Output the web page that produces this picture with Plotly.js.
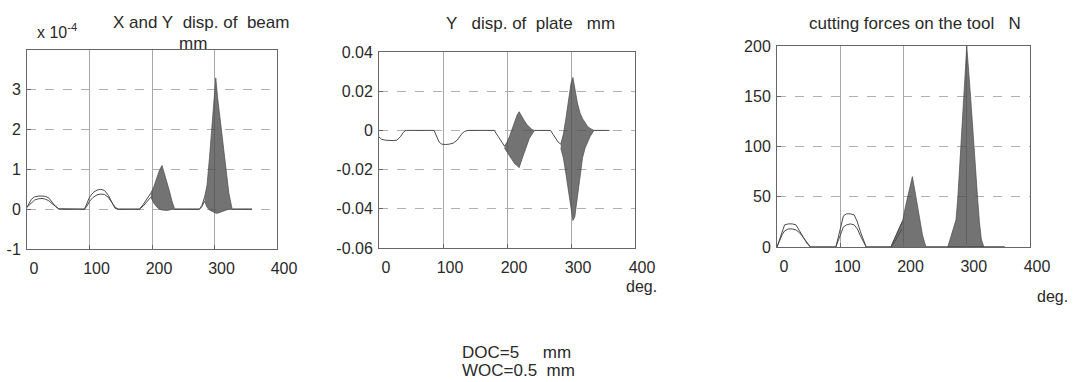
<!DOCTYPE html>
<html>
<head>
<meta charset="utf-8">
<script src="https://cdn.plot.ly/plotly-3.0.1.min.js"></script>
<style>html,body{margin:0;padding:0;background:#fff;}#chart{width:1075px;height:382px;}</style>
</head>
<body>
<div id="chart"></div>
<script>
// ---------- Data (x in degrees) ----------
// Plot 1: X and Y displacement of beam (values in 1e-4 mm)
const beamDeg = [0,3,7,12,18,24,30,35,40,45,51, 92,96,100,106,112,118,124,130,136,141,146, 180,186,192,198,199, 236,276,280,284,285, 328,360];
const beamX   = [0.05,0.15,0.25,0.31,0.33,0.33,0.32,0.28,0.18,0.08,0, 0,0.15,0.3,0.42,0.48,0.5,0.47,0.35,0.18,0.02,0, 0,0.12,0.25,0.4,null, 0,0,0.1,0.3,null, 0,0];
const beamY   = [0.05,0.1,0.17,0.23,0.26,0.27,0.25,0.21,0.14,0.07,0.01, 0,0.08,0.2,0.3,0.36,0.38,0.37,0.3,0.16,0.05,0, 0,0.08,0.18,0.3,null, 0,0,0.07,0.2,null, 0,0];
const beamBurst3Deg   = [198,203,208,212,216,220,224,228,232,236];
const beamBurst3Upper = [0.4,0.57,0.8,0.98,1.1,0.9,0.7,0.45,0.2,0.02];
const beamBurst3Lower = [0.3,0.15,0.05,0,-0.02,-0.03,-0.03,-0.02,0,0];
const beamBurst4Deg   = [284,288,292,296,300,302,305,308,311,315,319,323,328];
const beamBurst4Upper = [0.3,0.6,1.3,2.2,3.0,3.3,2.8,2.4,2.0,1.4,0.9,0.4,0.02];
const beamBurst4Lower = [0.2,0.05,-0.02,-0.05,-0.08,-0.1,-0.1,-0.08,-0.06,-0.04,-0.02,0,0];

// Plot 2: Y displacement of plate (mm)
const plateDeg = [0,4,10,16,22,28,34,38,42, 86,90,94,98,104,110,116,122,126,130,134,139, 180,184,188,192,196,197, 243,268,272,276,280,284,285, 336,360];
const plateY   = [-0.0034,-0.0045,-0.005,-0.0052,-0.0052,-0.005,-0.003,-0.001,0, 0,-0.003,-0.006,-0.007,-0.0072,-0.007,-0.0065,-0.005,-0.003,-0.0015,-0.0005,0, 0,-0.002,-0.004,-0.006,-0.008,null, 0,0,-0.002,-0.004,-0.006,-0.007,null, 0,0];
const plateBurst3Deg   = [196,200,204,208,212,216,219,223,227,231,235,239,243];
const plateBurst3Upper = [-0.008,-0.006,-0.003,0.001,0.005,0.008,0.0095,0.007,0.005,0.003,0.0015,0.0005,0];
const plateBurst3Lower = [-0.009,-0.011,-0.013,-0.015,-0.017,-0.018,-0.019,-0.015,-0.011,-0.007,-0.004,-0.002,0];
const plateBurst4Deg   = [284,288,292,296,300,303,306,310,314,318,322,326,330,336];
const plateBurst4Upper = [-0.007,-0.002,0.006,0.016,0.024,0.027,0.021,0.014,0.009,0.006,0.004,0.002,0.001,0];
const plateBurst4Lower = [-0.009,-0.014,-0.022,-0.03,-0.04,-0.046,-0.044,-0.034,-0.022,-0.014,-0.009,-0.006,-0.003,0];

// Plot 3: cutting forces on the tool (N)
const forceDeg = [0,4,8,12,18,24,30,36,42,48,53, 93,97,101,105,110,116,122,127,132,137,141, 180,186,192,198,199, 236,270, 327,360];
const forceA   = [0,8,16,22,23,23,22,16,9,3,0, 0,10,22,31,33,33,32,25,15,6,0, 0,8,17,25,null, 0,0, 0,0];
const forceB   = [0,7,12,16,18,18,17,14,9,4,0, 0,7,15,20,22,23,22,18,11,5,0, 0,5,12,18,null, 0,0, 0,0];
const forceBurst3Deg = [180,186,192,196,199,203,207,211,214,218,222,226,230,234,236];
const forceBurst3Max = [0,8,17,22,27,40,52,62,70,56,40,25,12,3,0];
const forceBurst4Deg = [270,276,283,286,291,296,300,306,311,314,317,320,323,327];
const forceBurst4Max = [0,12,27,50,100,150,200,150,100,75,50,25,8,0];

// Tick labels
const xTicks = [0,100,200,300,400];
const beamTicks = [-1,0,1,2,3];
const beamTickText = ['-1','0','1','2','3'];
const plateTicks = [-0.06,-0.04,-0.02,0,0.02,0.04];
const plateTickText = ['-0.06','-0.04','-0.02','0','0.02','0.04'];
const forceTicks = [0,50,100,150,200];

// ---------- Styling ----------
const W = 1075, H = 382;
const LINE = '#4a4a4a';
const FILL = 'rgba(75,75,75,0.78)';
const FONT = {family: 'Liberation Sans, Arial, Helvetica, sans-serif', size: 16, color: '#2a2a2a'};
const px = v => v / W;
const py = v => 1 - v / H;

function line(x, y, xa, ya, w) {
  return {x: x, y: y, xaxis: xa, yaxis: ya, type: 'scatter', mode: 'lines',
          line: {color: LINE, width: w || 1}, connectgaps: false, hoverinfo: 'skip'};
}
function band(x, lo, hi, xa, ya) {
  return [
    {x: x, y: lo, xaxis: xa, yaxis: ya, type: 'scatter', mode: 'lines', line: {color: LINE, width: 0.7}, hoverinfo: 'skip'},
    {x: x, y: hi, xaxis: xa, yaxis: ya, type: 'scatter', mode: 'lines', line: {color: LINE, width: 0.7},
     fill: 'tonexty', fillcolor: FILL, hoverinfo: 'skip'}
  ];
}

const traces = [
  line(beamDeg, beamX, 'x', 'y'),
  line(beamDeg, beamY, 'x', 'y'),
  ...band(beamBurst3Deg, beamBurst3Lower, beamBurst3Upper, 'x', 'y'),
  ...band(beamBurst4Deg, beamBurst4Lower, beamBurst4Upper, 'x', 'y'),

  line(plateDeg, plateY, 'x2', 'y2'),
  ...band(plateBurst3Deg, plateBurst3Lower, plateBurst3Upper, 'x2', 'y2'),
  ...band(plateBurst4Deg, plateBurst4Lower, plateBurst4Upper, 'x2', 'y2'),

  line(forceDeg, forceA, 'x3', 'y3'),
  line(forceDeg, forceB, 'x3', 'y3'),
  {x: forceBurst3Deg, y: forceBurst3Max, xaxis: 'x3', yaxis: 'y3', type: 'scatter', mode: 'lines',
   line: {color: LINE, width: 0.7}, fill: 'tozeroy', fillcolor: FILL, hoverinfo: 'skip'},
  {x: forceBurst4Deg, y: forceBurst4Max, xaxis: 'x3', yaxis: 'y3', type: 'scatter', mode: 'lines',
   line: {color: LINE, width: 0.7}, fill: 'tozeroy', fillcolor: FILL, hoverinfo: 'skip'}
];

function xax(l, r, anchor) {
  return {domain: [px(l), px(r)], range: [0, 400], tickvals: xTicks, anchor: anchor,
          showline: true, mirror: true, linecolor: '#666', linewidth: 1,
          ticks: 'inside', ticklen: 4, tickcolor: '#666',
          showgrid: true, gridcolor: '#a8a8a8', gridwidth: 1, griddash: 'solid',
          zeroline: false, tickfont: FONT, ticklabelstandoff: 5, ticklabelshift: 7, fixedrange: true};
}
function yax(b, t, range, vals, text, anchor) {
  const o = {domain: [py(b), py(t)], range: range, tickvals: vals, anchor: anchor,
          showline: true, mirror: true, linecolor: '#666', linewidth: 1,
          ticks: 'inside', ticklen: 4, tickcolor: '#666',
          showgrid: true, gridcolor: '#b0b0b0', gridwidth: 1, griddash: 'dash',
          zeroline: false, tickfont: FONT, ticklabelstandoff: 2, fixedrange: true};
  if (text) { o.ticktext = text; }
  return o;
}

const NB = '\u00A0';
const TFONT = {family: FONT.family, size: 17, color: '#2a2a2a'};
const BFONT = {family: FONT.family, size: 17, color: '#2a2a2a'};
function ann(text, x, y, xanchor, font) {
  return {text: text, x: px(x), y: py(y), xref: 'paper', yref: 'paper',
          xanchor: xanchor || 'center', yanchor: 'middle', showarrow: false, font: font || TFONT};
}

const layout = {
  width: W, height: H,
  margin: {l: 0, r: 0, t: 0, b: 0},
  paper_bgcolor: '#ffffff', plot_bgcolor: '#ffffff',
  showlegend: false,
  xaxis: xax(27, 277, 'y'),
  yaxis: yax(249, 50, [-1, 4], beamTicks, beamTickText, 'x'),
  xaxis2: xax(379, 635, 'y2'),
  yaxis2: yax(248, 52, [-0.06, 0.04], plateTicks, plateTickText, 'x2'),
  xaxis3: xax(777, 1030, 'y3'),
  yaxis3: yax(247, 46, [0, 200], forceTicks, null, 'x3'),
  annotations: [
    ann('x 10<sup>-4</sup>', 35, 31, 'left', {family: FONT.family, size: 16, color: '#2a2a2a'}),
    ann('X and Y' + NB + ' disp. of' + NB + ' beam', 201, 22),
    ann('mm', 193, 43),
    ann('Y' + NB + NB + ' disp. of' + NB + ' plate' + NB + NB + ' mm', 530, 24),
    ann('cutting forces on the tool' + NB + NB + ' N', 915, 24),
    ann('deg.', 641, 286, 'center', FONT),
    ann('deg.', 1052, 296, 'center', FONT),
    ann('DOC=5' + NB + NB + NB + NB + ' mm', 460, 352, 'left', BFONT),
    ann('WOC=0.5' + NB + ' mm', 460, 370, 'left', BFONT)
  ]
};

Plotly.newPlot('chart', traces, layout, {staticPlot: true, displayModeBar: false});
</script>
</body>
</html>
